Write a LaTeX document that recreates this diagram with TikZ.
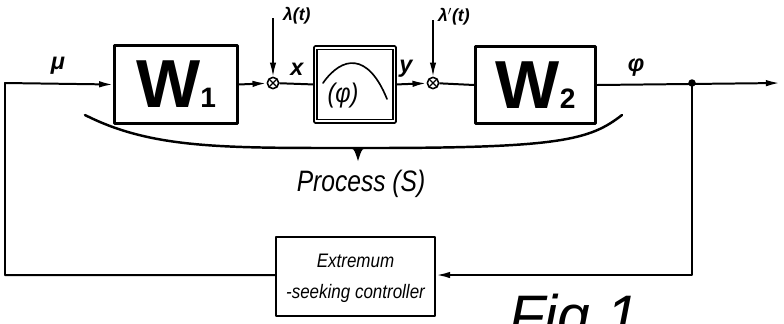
\documentclass[tikz,border=0pt]{standalone}
\usepackage{fontspec}
\setmainfont{Liberation Sans}
\usetikzlibrary{arrows.meta}
\tikzset{
  blockbox/.style={draw, line width=2.4pt, inner sep=0pt},
  sumnode/.style={draw, circle, line width=1.3pt, minimum size=0.34cm, inner sep=0pt,
    path picture={\draw[line width=1pt] (path picture bounding box.north west) -- (path picture bounding box.south east)
      (path picture bounding box.north east) -- (path picture bounding box.south west);}},
  arr/.style={-{Latex[length=12pt,width=5.5pt]}},
  lbl/.style={font=\fontsize{20}{20}\selectfont\bfseries\itshape, inner sep=1pt},
  small/.style={font=\fontsize{15}{15}\selectfont\bfseries\itshape, inner sep=1pt},
}
\newcommand{\wsym}[1]{{\fontsize{58}{58}\selectfont\bfseries W}{\fontsize{24}{24}\selectfont\bfseries #1}}
\newcommand{\tallbox}[2]{\scalebox{1}[#1]{#2}}
\begin{document}
\begin{tikzpicture}[x=0.03cm, y=-0.03cm, line width=1.7pt, line join=round]
				\useasboundingbox (0,0) rectangle (784,323);
				% blocks
				\node[blockbox, minimum width=3.68cm, minimum height=2.33cm] (W1) at (176,84.5) {\wsym{1}};
				\node[blockbox, line width=1.3pt, double, double distance=1.4pt, minimum width=2.36cm, minimum height=2.2cm] (F) at (355,84.5) {};
				\node[blockbox, minimum width=3.6cm, minimum height=2.3cm] (W2) at (535.5,85) {\wsym{2}};
				\node[blockbox, line width=2pt, minimum width=4.76cm, minimum height=2.36cm] (C) at (355.5,276.5)
				  {\tallbox{1.15}{\fontsize{14.5}{23.5}\selectfont\itshape\begin{tabular}{@{}c@{}}Extremum\\-seeking controller\end{tabular}}};
				\node[sumnode] (s1) at (273,83) {};
				\node[sumnode] (s2) at (433,83) {};
				% points
				\coordinate (TL) at (5,83);
				\coordinate (BL) at (5,275);
				\coordinate (J) at (692,83);
				\coordinate (BR) at (692,275);
				\coordinate (O) at (780,83);
				\coordinate (L1) at (273,18);
				\coordinate (L2) at (433,20);
				% signal lines
				\draw[arr] (C.west |- BL) -- (BL) -- (TL) -- (W1.west);
				\draw[arr] (W1.east) -- (s1);
				\draw (s1) -- (F.west);
				\draw[arr] (F.east) -- (s2);
				\draw (s2) -- (W2.west);
				\draw[arr] (W2.east) -- (O);
				\draw[arr] (J) -- (BR) -- (C.east |- BR);
				\draw[arr, line width=1.4pt] (L1) -- (s1);
				\draw[arr, line width=1.4pt] (L2) -- (s2);
				\fill (J) circle (3.2pt);
				% characteristic
				\draw[line width=1.4pt, line cap=round] (323,83) .. controls (342,56) and (368,52) .. (387,99);
				\node[font=\fontsize{20}{20}\selectfont\itshape, inner sep=0pt] (phi) at (343,96) {\tallbox{1.15}{(φ)}};
				% brace
				\draw[line width=2.1pt, line cap=round] (85,115) .. controls (150,148) and (220,148) .. (345,148)
				  -- (371,148) .. controls (560,148) and (590,140) .. (622,115);
				\fill (345,147) .. controls (354,148) .. (358,161) .. controls (362,148) .. (371,147) -- cycle;
				\node[font=\fontsize{21}{21}\selectfont\itshape, inner sep=0pt] (proc) at (361,184) {\tallbox{1.2}{Process (S)}};
				% labels
				\node[lbl] (mu) at (58,66) {μ};
				\node[lbl] (xl) at (297,69) {x};
				\node[lbl] (yl) at (406,69) {y};
				\node[lbl] (fl) at (636,68) {φ};
				\node[small, anchor=west] (lam1) at (281,16) {λ(t)};
				\node[small, anchor=west] (lam2) at (436,17) {λ$'$(t)};
				\node[font=\fontsize{50}{50}\selectfont\itshape, inner sep=0pt, anchor=base west] (fig) at (508,336) {Fig 1};
			\end{tikzpicture}
\end{document}
